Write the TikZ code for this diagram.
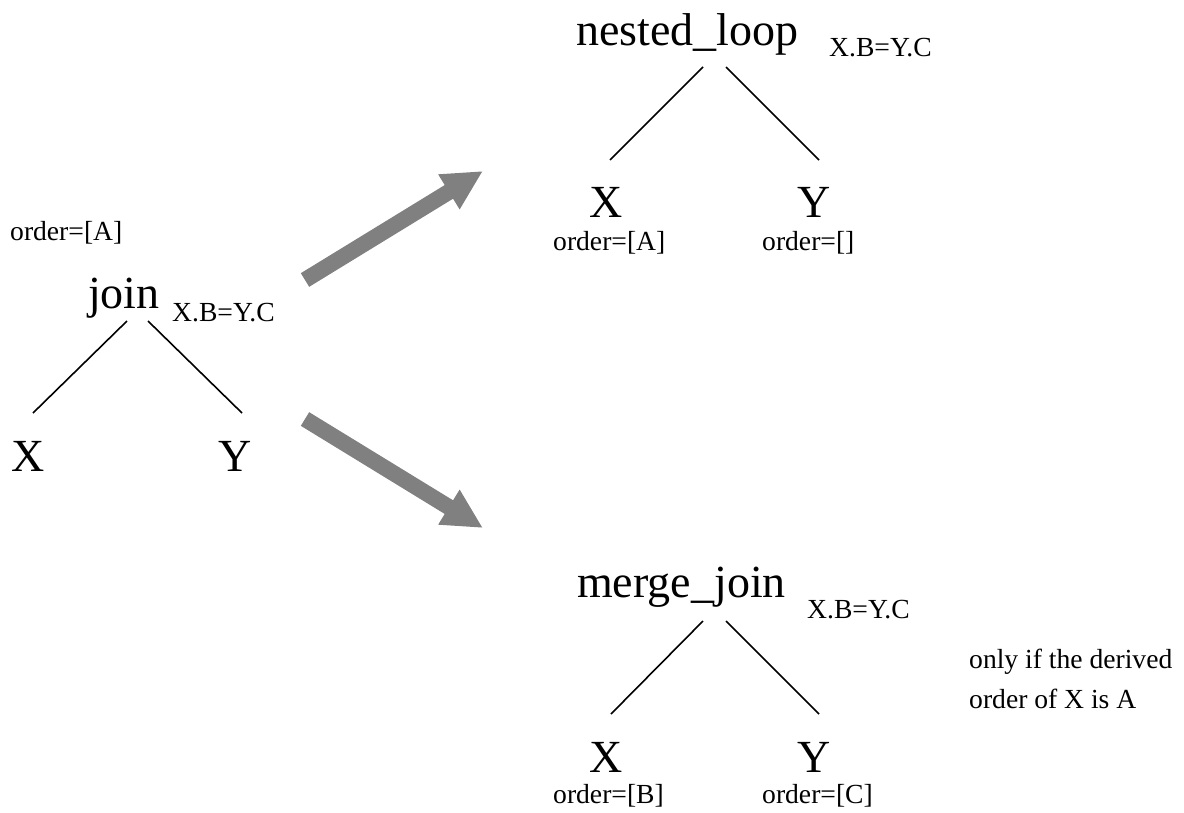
\documentclass[tikz,border=0pt]{standalone}
\usepackage{fontspec}
\setmainfont{Liberation Serif}
\usetikzlibrary{arrows.meta}
\begin{document}
\begin{tikzpicture}[x=1pt,y=-1pt,
  big/.style={font=\fontsize{46}{50}\selectfont, inner sep=0pt, anchor=base west},
  small/.style={font=\fontsize{27.6}{32}\selectfont, inner sep=0pt, anchor=base west},
  edge/.style={line width=1.6pt},
  bigarrow/.style={draw={rgb,255:red,128;green,128;blue,128}, line width=16pt, -{Triangle[length=40pt,width=38pt]}}]
\useasboundingbox (0,0) rectangle (1184,812);
% left tree
\node[small] (lord) at (10,240) {order=[A]};
\node[big] (ljoin) at (88,308) {join};
\node[small] (lcond) at (172,321) {X.B=Y.C};
\node[big] (lx) at (11,471) {X};
\node[big] (ly) at (218,471) {Y};
\coordinate (la1) at (127,321); \coordinate (la2) at (33,413);
\coordinate (lb1) at (148,321); \coordinate (lb2) at (242,413);
\draw[edge] (la1) -- (la2);
\draw[edge] (lb1) -- (lb2);
% top tree
\node[big] (tnl) at (576,45) {nested\_loop};
\node[small] (tcond) at (829,56) {X.B=Y.C};
\node[big] (tx) at (589,217) {X};
\node[big] (ty) at (797,217) {Y};
\node[small] (txo) at (553,250) {order=[A]};
\node[small] (tyo) at (762,250) {order=[]};
\coordinate (ta1) at (703,67); \coordinate (ta2) at (610,160);
\coordinate (tb1) at (726,67); \coordinate (tb2) at (819,160);
\draw[edge] (ta1) -- (ta2);
\draw[edge] (tb1) -- (tb2);
% bottom tree
\node[big] (bmj) at (577,597) {merge\_join};
\node[small] (bcond) at (807,618) {X.B=Y.C};
\node[big] (bx) at (589,772) {X};
\node[big] (by) at (797,772) {Y};
\node[small] (bxo) at (553,803) {order=[B]};
\node[small] (byo) at (762,803) {order=[C]};
\coordinate (ba1) at (703,621); \coordinate (ba2) at (611,714);
\coordinate (bb1) at (726,621); \coordinate (bb2) at (819,714);
\draw[edge] (ba1) -- (ba2);
\draw[edge] (bb1) -- (bb2);
\node[small] (note1) at (969,668) {only if the derived};
\node[small] (note2) at (969,708) {order of X is A};
% arrows
\coordinate (ua1) at (305,280); \coordinate (ua2) at (483,171);
\coordinate (da1) at (305,419); \coordinate (da2) at (483,528);
\draw[bigarrow] (ua1) -- (ua2);
\draw[bigarrow] (da1) -- (da2);
\end{tikzpicture}
\end{document}
